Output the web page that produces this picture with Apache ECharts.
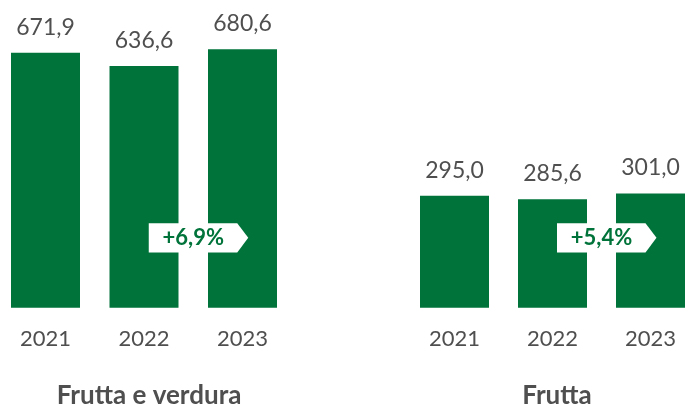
<!DOCTYPE html>
<html>
<head>
<meta charset="utf-8">
<script src="https://cdn.jsdelivr.net/npm/echarts@6/dist/echarts.min.js"></script>
<style>html,body{margin:0;padding:0;background:#fff}#c{width:685px;height:410px}</style>
</head>
<body>
<div id="c"></div>
<script>
var years = ['2021', '2022', '2023'];
var fruttaVerdura = [671.9, 636.6, 680.6];
var frutta = [295.0, 285.6, 301.0];
var groupTitles = ['Frutta e verdura', 'Frutta'];
var growthLabels = ['+6,9%', '+5,4%'];

var GREEN = '#00733a';
var GRAY = '#4f4f4f';
var FONT = 'Lato';

var chart = echarts.init(document.getElementById('c'), null, {renderer: 'canvas'});

function fmt(p) { return p.value.toFixed(1).replace('.', ','); }

function xAx(i) {
  return {
    type: 'category', gridIndex: i, data: years, boundaryGap: false,
    axisLine: {show: false}, axisTick: {show: false}, splitLine: {show: false},
    axisLabel: {color: GRAY, fontSize: 22, fontFamily: FONT, margin: 20}
  };
}
function yAx(i) {
  return {type: 'value', gridIndex: i, min: 0, max: 800, show: false, splitLine: {show: false}};
}
function ser(i, data) {
  return {
    type: 'bar', xAxisIndex: i, yAxisIndex: i, data: data, barWidth: 69, clip: false,
    itemStyle: {color: GREEN},
    label: {show: true, position: 'top', distance: 14, color: GRAY, fontSize: 23, fontFamily: FONT, formatter: fmt},
    animation: false
  };
}

chart.setOption({
  animation: false,
  grid: [
    {left: 45.5, width: 197, top: 4, bottom: 102.3},
    {left: 454.5, width: 196, top: 4, bottom: 102.3}
  ],
  xAxis: [xAx(0), xAx(1)],
  yAxis: [yAx(0), yAx(1)],
  title: [
    {text: groupTitles[0], left: 144, top: 378, textAlign: 'center',
     textStyle: {color: GRAY, fontSize: 26, fontWeight: 'bold', fontFamily: FONT}},
    {text: groupTitles[1], left: 552, top: 378, textAlign: 'center',
     textStyle: {color: GRAY, fontSize: 26, fontWeight: 'bold', fontFamily: FONT}}
  ],
  series: [ser(0, fruttaVerdura), ser(1, frutta)]
});

// growth arrows placed between 2022 and 2023 of each group, via the axes
var arrowValue = 184;
var graphics = [];
[0, 1].forEach(function (g) {
  var p1 = chart.convertToPixel({gridIndex: g}, [years[1], arrowValue]);
  var p2 = chart.convertToPixel({gridIndex: g}, [years[2], arrowValue]);
  var cx = (p1[0] + p2[0]) / 2, cy = p1[1];
  var h = 14.7;
  graphics.push({
    type: 'polygon', z: 10,
    shape: {points: [[cx - 44.5, cy - h], [cx + 44, cy - h], [cx + 55, cy], [cx + 44, cy + h], [cx - 44.5, cy + h]]},
    style: {fill: '#fff'}
  });
  graphics.push({
    type: 'text', z: 11, x: cx, y: cy,
    style: {text: growthLabels[g], fill: GREEN, font: 'bold 22px ' + FONT, textAlign: 'center', textVerticalAlign: 'middle'}
  });
});
chart.setOption({graphic: graphics});
</script>
</body>
</html>
